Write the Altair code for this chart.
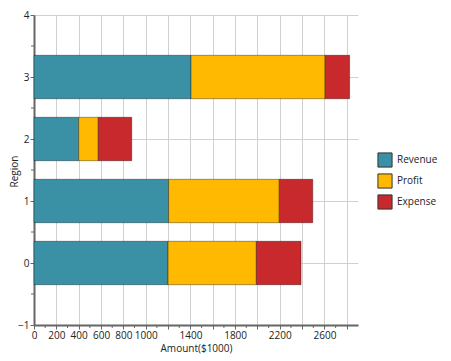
import altair as alt
import pandas as pd

regions = [0, 1, 2, 3]
revenue = [1200, 1205, 400, 1405]
profit = [790, 990, 175, 1200]
expense = [400, 300, 300, 220]
series = ["Revenue", "Profit", "Expense"]
colors = ["#3A91A5", "#FFB900", "#C8292D"]
x_minor = [100, 300, 500, 700, 900, 1100, 1300, 1500, 1700, 1900, 2100, 2300, 2500, 2700]
y_minor = [-0.5, 0.5, 1.5, 2.5, 3.5]

rows = []
for i, r in enumerate(regions):
    start = 0
    for s, vals in zip(series, [revenue, profit, expense]):
        v = vals[i]
        rows.append({"region": r, "series": s, "start": start, "end": start + v,
                     "lo": r - 0.35, "hi": r + 0.35})
        start += v
df = pd.DataFrame(rows)

FONT = "Open Sans"
FS = 10
xscale = alt.Scale(domain=[0, 2900], nice=False, zero=False)
yscale = alt.Scale(domain=[-1, 4], nice=False, zero=False)
shown = [0, 200, 400, 600, 800, 1000, 1400, 1800, 2200, 2600]

xaxis = alt.Axis(values=list(range(0, 2900, 200)), labelOverlap=False, labelFlush=False,
                 labelExpr="indexof([" + ",".join(str(v) for v in shown) + "], datum.value) >= 0 ? datum.label : ''",
                 format="d", titlePadding=3)
yaxis = alt.Axis(values=[-1, 0, 1, 2, 3, 4], format="d", labelOverlap=False, labelFlush=False,
                 titleX=-15, titleY=156, titleAngle=-90, titleAlign="center",
                 titleBaseline="bottom")

bars = alt.Chart(df).mark_bar(stroke="#000", strokeOpacity=0.35, strokeWidth=1).encode(
    x=alt.X("start:Q", scale=xscale, title="Amount($1000)", axis=xaxis),
    x2="end:Q",
    y=alt.Y("lo:Q", scale=yscale, title="Region", axis=yaxis),
    y2="hi:Q",
    color=alt.Color("series:N", sort=series,
                    scale=alt.Scale(domain=series, range=colors),
                    legend=alt.Legend(title=None, orient="none", legendX=343, legendY=137,
                                      symbolType="square", symbolSize=200,
                                      symbolStrokeColor="#333", symbolStrokeWidth=1,
                                      labelFont=FONT, labelFontSize=FS, labelColor="#222",
                                      rowPadding=1, labelOffset=4)),
)

xm = alt.Chart(pd.DataFrame({"v": x_minor})).mark_rule(color="#666").encode(
    x=alt.X("v:Q", scale=xscale, title="Amount($1000)", axis=xaxis),
    y=alt.value(310), y2=alt.value(313))
ym = alt.Chart(pd.DataFrame({"v": y_minor})).mark_rule(color="#666").encode(
    y=alt.Y("v:Q", scale=yscale, title="Region", axis=yaxis),
    x=alt.value(0), x2=alt.value(-3))

chart = alt.layer(bars, xm, ym).properties(
    width=324, height=310, autosize=alt.AutoSizeParams(type="none"),
    padding={"left": 26, "top": 7, "right": 85, "bottom": 36},
).configure_axis(
    labelFont=FONT, labelFontSize=FS, labelColor="#222",
    titleFont=FONT, titleFontSize=FS, titleColor="#222", titleFontWeight="normal",
    domainColor="#666", domainWidth=2, tickColor="#666", tickSize=4,
    gridColor="#d0d0d0", gridWidth=1, labelPadding=1,
).configure_view(stroke=None)

chart.save("out.html", embed_options={"renderer": "svg", "actions": False})
